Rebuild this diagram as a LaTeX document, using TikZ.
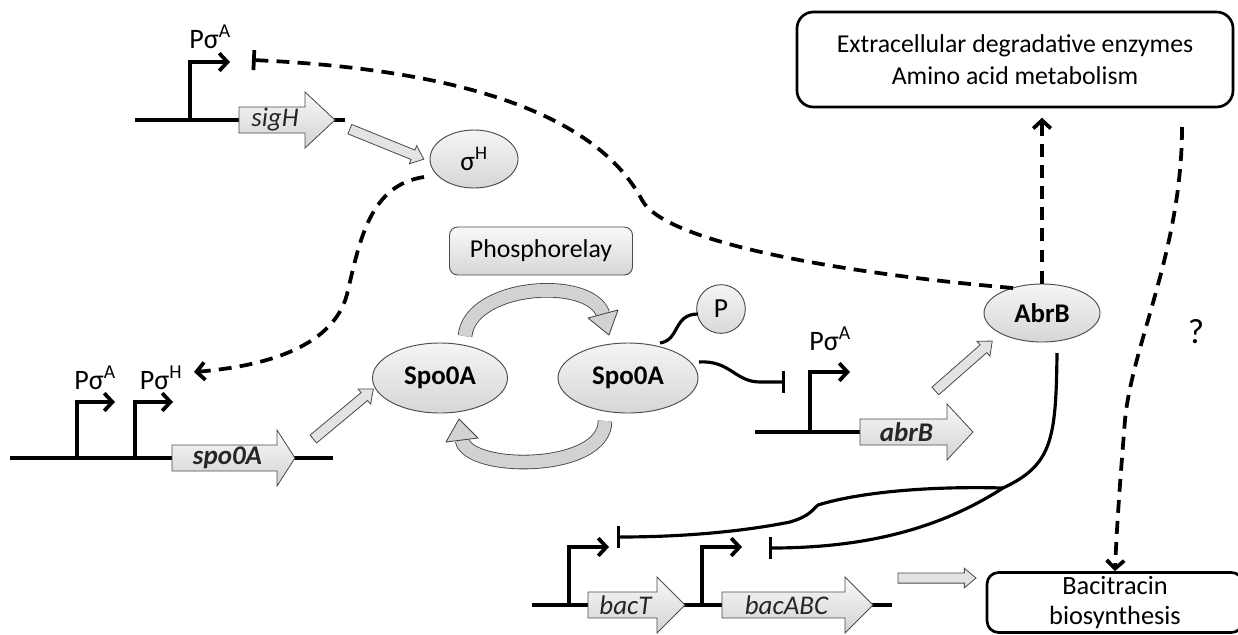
\documentclass[tikz,border=0pt]{standalone}
\usepackage{fontspec}
\setmainfont{Carlito}
\usetikzlibrary{arrows.meta,shapes.geometric,shapes.arrows,calc}
\newcommand{\genearrow}[6]{%
  \draw[genebox] (#2,#5-13) -- (#3,#5-13) -- (#3,#5-28) -- (#4,#5) -- (#3,#5+28) -- (#3,#5+13) -- (#2,#5+13) -- cycle;
  \node[genelabel] (#1) at ({(#2+#3)/2+3},#5) {#6};}
\newcommand{\harrow}[2]{%
  \path let \p1=($(#2)-(#1)$), \n1={atan2(\y1,\x1)}, \n2={veclen(\x1,\y1)} in
    node[hollowarr, minimum height=\n2, rotate=\n1] at ($(#1)!0.5!(#2)$) {};}
\begin{document}
\begin{tikzpicture}[x=0.03cm,y=-0.03cm,
  gene/.style={line width=3.2pt},
  prom/.style={line width=3.2pt,-{Straight Barb[length=7pt,width=15pt]}},
  genebox/.style={draw=black!70,line width=0.7pt,top color=gray!5,bottom color=gray!35},
  genelabel/.style={font=\itshape\fontsize{23}{24}\selectfont,inner sep=0,text=black!85},
  prot/.style={ellipse,draw=black!70,line width=0.8pt,top color=gray!8,bottom color=gray!32,inner sep=0},
  plabel/.style={font=\fontsize{24}{26}\selectfont,anchor=base,inner sep=0},
  dsh/.style={line width=3.2pt,dash pattern=on 11pt off 7pt},
  barb/.style={-{Straight Barb[length=7pt,width=15pt]}},
  hollowarr/.style={single arrow,draw=black!70,line width=0.7pt,fill=gray!22,inner sep=4pt,single arrow head extend=4pt,single arrow tip angle=80},
  inh/.style={-{Bar[width=19pt]}},
  sol/.style={line width=2.7pt},
  cyc/.style={draw=black!75,line width=0.7pt,double=gray!35,double distance=11pt},
  cychead/.style={draw=black!75,line width=0.7pt,fill=gray!35,line join=round},
]
\useasboundingbox (0,0) rectangle (1238,634);
\fill[white] (0,0) rectangle (1238,634);
\clip (0,0) rectangle (1238,634);

% gene lines
\draw[gene] (135,120) -- (345,120);
\draw[gene] (10,458) -- (333,458);
\draw[gene] (755,432) -- (870,432);
\draw[gene] (532,605) -- (892,605);

% promoters
\draw[prom] (190,120) |- (230,62);
\draw[prom] (77,458) |- (115,402);
\draw[prom] (135,458) |- (173,402);
\draw[prom] (810,432) |- (850,372);
\draw[prom] (569,605) |- (609,547);
\draw[prom] (702,605) |- (742,547);

% gene arrows
\genearrow{sigH}{239}{305}{335}{120}{sigH}
\genearrow{spoA}{172}{277}{295}{458}{\bfseries spo0A}
\genearrow{abrBg}{860}{947}{973}{432}{\bfseries abrB}
\genearrow{bacT}{588}{657}{685}{605}{bacT}
\genearrow{bacABC}{722}{845}{873}{605}{bacABC}

% promoter labels
\node[plabel] (pA1) at (210,48) {Pσ\textsuperscript{A}};
\node[plabel] (pA2) at (95,389) {Pσ\textsuperscript{A}};
\node[plabel] (pH2) at (161,389) {Pσ\textsuperscript{H}};
\node[plabel] (pA3) at (830,350) {Pσ\textsuperscript{A}};

% proteins and boxes
\node[prot,minimum width=2.64cm,minimum height=1.74cm,font=\fontsize{23.5}{24}\selectfont] (sigma) at (474,159) {σ\textsuperscript{H}};
\node[prot,minimum width=4.05cm,minimum height=2.1cm,font=\bfseries\fontsize{23}{24}\selectfont] (spoL) at (440,378) {Spo0A};
\node[prot,minimum width=4.2cm,minimum height=2.1cm,font=\bfseries\fontsize{23}{24}\selectfont] (spoR) at (628,378) {Spo0A};
\node[prot,minimum width=3.48cm,minimum height=1.74cm,font=\bfseries\fontsize{23}{24}\selectfont] (abrB) at (1042,313) {AbrB};
\node[circle,draw=black!70,line width=0.8pt,top color=gray!8,bottom color=gray!30,minimum size=1.46cm,inner sep=0,font=\fontsize{23.5}{24}\selectfont] (P) at (721,309) {P};
\node[draw=black!70,line width=0.8pt,rounded corners=7pt,top color=gray!5,bottom color=gray!32,minimum width=5.49cm,minimum height=1.44cm,font=\fontsize{22}{24}\selectfont] (phos) at (541,251) {Phosphorelay};
\node[draw,line width=2.3pt,rounded corners=14pt,minimum width=13.08cm,minimum height=2.85cm,align=center,font=\fontsize{22}{27}\selectfont] (eff) at (1015,59.5) {Extracellular degradative enzymes\\Amino acid metabolism};
\node[draw,line width=2.3pt,rounded corners=10pt,minimum width=7.68cm,minimum height=1.77cm,align=center,font=\fontsize{22.5}{25.5}\selectfont] (bac) at (1115,602.5) {Bacitracin\\biosynthesis};
\node[font=\fontsize{30}{32}\selectfont] (q) at (1196,332) {?};

% hollow arrows
\coordinate (h1a) at (347,128); \coordinate (h1b) at (421,158);
\coordinate (h2a) at (311,441); \coordinate (h2b) at (371,391);
\coordinate (h3a) at (933,393); \coordinate (h3b) at (990,343);
\coordinate (h4a) at (895,578); \coordinate (h4b) at (973,578);
\harrow{h1a}{h1b}
\harrow{h2a}{h2b}
\harrow{h3a}{h3b}
\harrow{h4a}{h4b}

% phosphorelay cycle
\draw[cyc] (465,336) .. controls (470,284) and (590,276) .. (603,314);
\draw[cychead] (588,318) -- (618,310) -- (609,335) -- cycle;
\draw[cyc] (605,421) .. controls (605,472) and (468,472) .. (462,440);
\draw[cychead] (446,442) -- (478,438) -- (459,419) -- cycle;

% dashed connectors
\coordinate (sgs) at (424,177);
\draw[dsh,barb] (sgs) .. controls (370,185) and (360,240) .. (348,290) .. controls (338,340) and (280,365) .. (194,372);
\coordinate (abs) at (1013,288);
\coordinate (pAbar) at (252,60);
\draw[dsh,-{Bar[width=17pt]}] (abs) .. controls (860,275) and (666,245) .. (642,200) .. controls (610,140) and (520,72) .. (pAbar);
\draw[dsh,barb,shorten >=8pt] (abrB.north) -- (abrB.north |- eff.south);
\coordinate (effq) at (1182,127);
\draw[dsh,barb] (effq) .. controls (1182,250) and (1132,345) .. (1125,420) .. controls (1121,470) and (1117,520) .. (bac.north);

% solid connectors
\coordinate (J) at (1003,488);
\coordinate (abB) at (1057,353);
\draw[sol,inh] (abB) .. controls (1056,440) and (1052,465) .. (J) .. controls (950,522) and (880,548) .. (769,548);
\draw[sol,inh] (J) .. controls (930,486) and (860,492) .. (818,505) .. controls (812,510) and (810,516) .. (790,522) .. controls (740,532) and (680,537) .. (617,537);
\coordinate (spP) at (660,343);
\draw[sol] (spP) .. controls (680,340) and (673,314) .. (698,314);
\coordinate (spI) at (699,362);
\draw[sol,inh] (spI) .. controls (730,360) and (735,382) .. (760,382) -- (785,382);
\end{tikzpicture}
\end{document}
